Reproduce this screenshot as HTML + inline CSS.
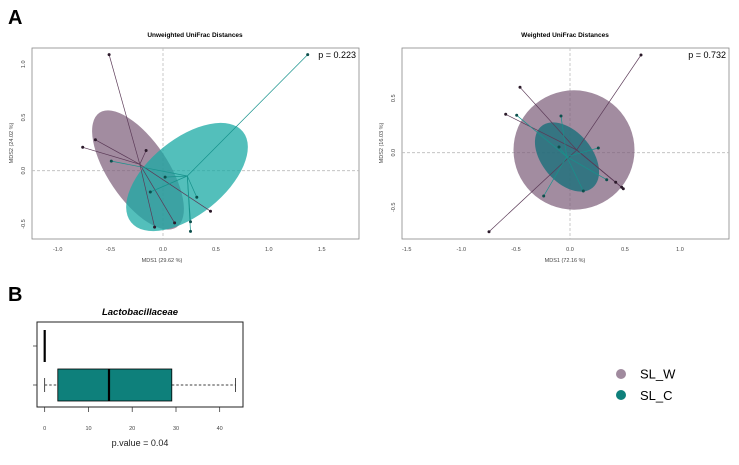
<!DOCTYPE html>
<html><head><style>
body{margin:0;background:#fff;}
svg text{font-family:"Liberation Sans",sans-serif;}
</style></head><body>
<svg width="739" height="460" viewBox="0 0 739 460" xmlns="http://www.w3.org/2000/svg">
<text x="8" y="24" font-size="20" font-weight="bold">A</text>
<!-- Left plot -->
<text x="195" y="37" font-size="6.5" font-weight="bold" text-anchor="middle">Unweighted UniFrac Distances</text>
<rect x="32" y="48" width="327" height="191" fill="none" stroke="#888" stroke-width="0.8"/>
<line x1="163" y1="48" x2="163" y2="239" stroke="#bbb" stroke-dasharray="3,2" stroke-width="0.8"/>
<line x1="32" y1="170.7" x2="359" y2="170.7" stroke="#bbb" stroke-dasharray="3,2" stroke-width="0.8"/>
<ellipse cx="138" cy="170" rx="69" ry="30" transform="rotate(56 138 170)" fill="#7b5b78" fill-opacity="0.7"/>
<ellipse cx="187" cy="177" rx="72" ry="38" transform="rotate(-39 187 177)" fill="#1aaaa4" fill-opacity="0.75"/>
<g stroke="#5b3a57" stroke-width="0.7">
<line x1="139.8" y1="164.3" x2="109.1" y2="54.6"/><line x1="139.8" y1="164.3" x2="82.7" y2="147.3"/>
<line x1="139.8" y1="164.3" x2="95.4" y2="139.8"/><line x1="139.8" y1="164.3" x2="146.1" y2="150.5"/>
<line x1="139.8" y1="164.3" x2="210.5" y2="211.2"/><line x1="139.8" y1="164.3" x2="174.6" y2="222.9"/>
<line x1="139.8" y1="164.3" x2="154.6" y2="227.1"/></g>
<g stroke="#17928c" stroke-width="0.7">
<line x1="187.3" y1="176" x2="307.7" y2="54.6"/><line x1="187.3" y1="176" x2="111.3" y2="161.1"/>
<line x1="187.3" y1="176" x2="165.1" y2="177.1"/><line x1="187.3" y1="176" x2="150.3" y2="192"/>
<line x1="187.3" y1="176" x2="196.8" y2="197.3"/><line x1="187.3" y1="176" x2="190.5" y2="221.8"/>
<line x1="187.3" y1="176" x2="190.5" y2="231.4"/></g>
<g fill="#2b1a2a"><circle cx="109.1" cy="54.6" r="1.5"/><circle cx="82.7" cy="147.3" r="1.5"/><circle cx="95.4" cy="139.8" r="1.5"/><circle cx="146.1" cy="150.5" r="1.5"/><circle cx="210.5" cy="211.2" r="1.5"/><circle cx="174.6" cy="222.9" r="1.5"/><circle cx="154.6" cy="227.1" r="1.5"/></g>
<g fill="#0d4f4c"><circle cx="307.7" cy="54.6" r="1.5"/><circle cx="111.3" cy="161.1" r="1.5"/><circle cx="165.1" cy="177.1" r="1.5"/><circle cx="150.3" cy="192" r="1.5"/><circle cx="196.8" cy="197.3" r="1.5"/><circle cx="190.5" cy="221.8" r="1.5"/><circle cx="190.5" cy="231.4" r="1.5"/></g>
<text x="356" y="58" font-size="9" text-anchor="end">p = 0.223</text>
<g font-size="5.5" fill="#444" text-anchor="middle">
<text x="57.7" y="251">-1.0</text><text x="110.5" y="251">-0.5</text><text x="163" y="251">0.0</text><text x="216" y="251">0.5</text><text x="268.8" y="251">1.0</text><text x="321.7" y="251">1.5</text>
<text x="162" y="262">MDS1 (29.62 %)</text>
<text transform="translate(25,64.3) rotate(-90)">1.0</text><text transform="translate(25,117.5) rotate(-90)">0.5</text><text transform="translate(25,170.7) rotate(-90)">0.0</text><text transform="translate(25,224) rotate(-90)">-0.5</text>
<text transform="translate(13,143) rotate(-90)">MDS2 (24.02 %)</text>
</g>
<!-- Right plot -->
<text x="565" y="37" font-size="6.5" font-weight="bold" text-anchor="middle">Weighted UniFrac Distances</text>
<rect x="402" y="48" width="327" height="191" fill="none" stroke="#888" stroke-width="0.8"/>
<line x1="570" y1="48" x2="570" y2="239" stroke="#bbb" stroke-dasharray="3,2" stroke-width="0.8"/>
<line x1="402" y1="152.7" x2="729" y2="152.7" stroke="#bbb" stroke-dasharray="3,2" stroke-width="0.8"/>
<ellipse cx="574" cy="150" rx="60.5" ry="59.7" fill="#7b5b78" fill-opacity="0.7"/>
<ellipse cx="567" cy="157" rx="40" ry="25" transform="rotate(50 567 157)" fill="#1a6f7a" fill-opacity="0.8"/>
<g stroke="#5b3a57" stroke-width="0.7">
<line x1="576.7" y1="150" x2="641" y2="55"/><line x1="576.7" y1="150" x2="520" y2="87.3"/>
<line x1="576.7" y1="150" x2="505.7" y2="114.3"/><line x1="576.7" y1="150" x2="489" y2="231.7"/>
<line x1="576.7" y1="150" x2="615.7" y2="182.3"/><line x1="576.7" y1="150" x2="621.7" y2="187.3"/>
<line x1="576.7" y1="150" x2="623.3" y2="188.7"/></g>
<g stroke="#17928c" stroke-width="0.7">
<line x1="566.7" y1="156.7" x2="516.7" y2="115.3"/><line x1="566.7" y1="156.7" x2="561" y2="116"/>
<line x1="566.7" y1="156.7" x2="559" y2="147"/><line x1="566.7" y1="156.7" x2="598.3" y2="148"/>
<line x1="566.7" y1="156.7" x2="606.7" y2="179.7"/><line x1="566.7" y1="156.7" x2="583.3" y2="191"/>
<line x1="566.7" y1="156.7" x2="543.7" y2="196"/></g>
<g fill="#2b1a2a"><circle cx="641" cy="55" r="1.5"/><circle cx="520" cy="87.3" r="1.5"/><circle cx="505.7" cy="114.3" r="1.5"/><circle cx="489" cy="231.7" r="1.5"/><circle cx="615.7" cy="182.3" r="1.5"/><circle cx="621.7" cy="187.3" r="1.5"/><circle cx="623.3" cy="188.7" r="1.5"/></g>
<g fill="#0d4f4c"><circle cx="516.7" cy="115.3" r="1.5"/><circle cx="561" cy="116" r="1.5"/><circle cx="559" cy="147" r="1.5"/><circle cx="598.3" cy="148" r="1.5"/><circle cx="606.7" cy="179.7" r="1.5"/><circle cx="583.3" cy="191" r="1.5"/><circle cx="543.7" cy="196" r="1.5"/></g>
<text x="726" y="58" font-size="9" text-anchor="end">p = 0.732</text>
<g font-size="5.5" fill="#444" text-anchor="middle">
<text x="406.7" y="251">-1.5</text><text x="461.3" y="251">-1.0</text><text x="516" y="251">-0.5</text><text x="570" y="251">0.0</text><text x="625" y="251">0.5</text><text x="680" y="251">1.0</text>
<text x="565" y="262">MDS1 (72.16 %)</text>
<text transform="translate(395,98.3) rotate(-90)">0.5</text><text transform="translate(395,152.7) rotate(-90)">0.0</text><text transform="translate(395,207.3) rotate(-90)">-0.5</text>
<text transform="translate(383,143) rotate(-90)">MDS2 (16.03 %)</text>
</g>
<!-- B panel -->
<text x="8" y="301" font-size="20" font-weight="bold">B</text>
<text x="140" y="315" font-size="9.5" font-weight="bold" font-style="italic" text-anchor="middle">Lactobacillaceae</text>
<rect x="37" y="322" width="206" height="85" fill="none" stroke="#222" stroke-width="1"/>
<line x1="33" y1="346" x2="37" y2="346" stroke="#222" stroke-width="0.7"/>
<line x1="33" y1="385" x2="37" y2="385" stroke="#222" stroke-width="0.7"/>
<line x1="44.7" y1="330" x2="44.7" y2="362" stroke="#000" stroke-width="2.2"/>
<line x1="44.7" y1="385" x2="57.8" y2="385" stroke="#000" stroke-width="0.7" stroke-dasharray="2.5,2"/>
<line x1="171.8" y1="385" x2="235.5" y2="385" stroke="#000" stroke-width="0.7" stroke-dasharray="2.5,2"/>
<line x1="44.7" y1="378" x2="44.7" y2="392" stroke="#000" stroke-width="0.7"/>
<line x1="235.5" y1="378" x2="235.5" y2="392" stroke="#000" stroke-width="0.7"/>
<rect x="57.8" y="369" width="114" height="32" fill="#0e807b" stroke="#000" stroke-width="0.8"/>
<line x1="109" y1="369" x2="109" y2="401" stroke="#000" stroke-width="2.2"/>
<g stroke="#222" stroke-width="0.7"><line x1="44.7" y1="407" x2="44.7" y2="412"/><line x1="88.5" y1="407" x2="88.5" y2="412"/><line x1="132.2" y1="407" x2="132.2" y2="412"/><line x1="176" y1="407" x2="176" y2="412"/><line x1="219.7" y1="407" x2="219.7" y2="412"/></g>
<g font-size="5.5" fill="#444" text-anchor="middle"><text x="44.7" y="430">0</text><text x="88.5" y="430">10</text><text x="132.2" y="430">20</text><text x="176" y="430">30</text><text x="219.7" y="430">40</text></g>
<text x="140" y="446" font-size="9" text-anchor="middle" fill="#222">p.value = 0.04</text>
<!-- legend -->
<circle cx="621" cy="374" r="5" fill="#a08a9e"/>
<circle cx="621" cy="395" r="5" fill="#0e807b"/>
<text x="640" y="378.5" font-size="13">SL_W</text>
<text x="640" y="400" font-size="13">SL_C</text>
</svg>
</body></html>
